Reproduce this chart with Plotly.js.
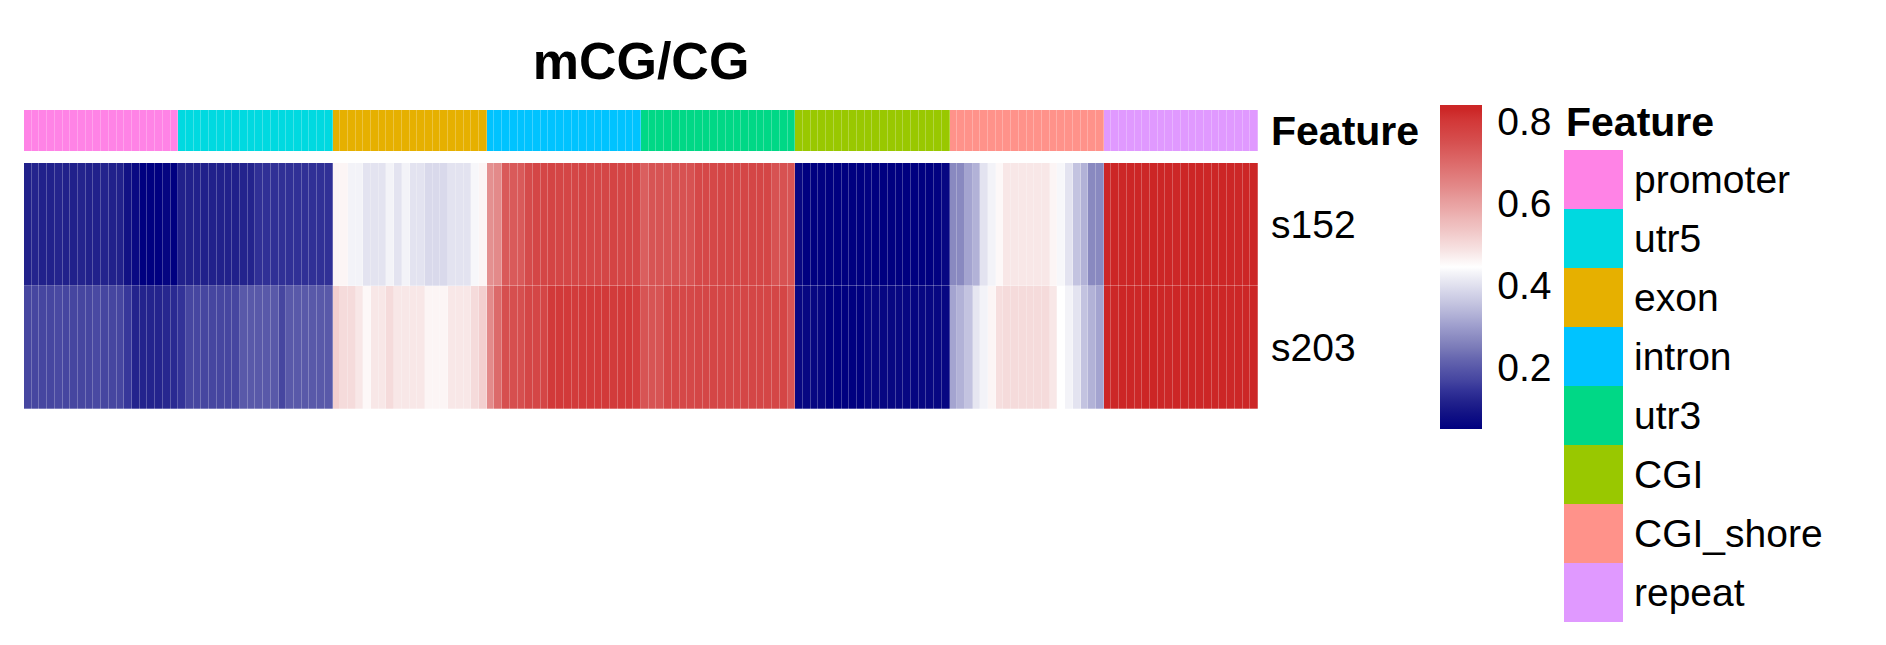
<!DOCTYPE html>
<html>
<head>
<meta charset="utf-8">
<script src="https://cdn.plot.ly/plotly-3.0.1.min.js"></script>
<style>html,body{margin:0;padding:0;background:#fff;}#chart{width:1886px;height:645px;}</style>
</head>
<body>
<div id="chart"></div>
<script>
// ---------------- data ----------------
const chartTitle = "mCG/CG";
const samples = ["s152", "s203"];
const features = ["promoter", "utr5", "exon", "intron", "utr3", "CGI", "CGI_shore", "repeat"];
const featureColors = ["#FF83E6", "#00D9E0", "#E6B000", "#00C3FF", "#00D886", "#99C800", "#FF928A", "#E099FF"];
const binsPerFeature = 20;
const colorbarTicks = [0.2, 0.4, 0.6, 0.8];
const valueMin = 0.05, valueMax = 0.84;

// mCG/CG per bin, 20 bins per feature (promoter, utr5, exon, intron, utr3, CGI, CGI_shore, repeat)
const s152 = [
  0.115,0.12,0.115,0.115,0.12,0.115,0.115,0.12,0.115,0.115,0.12,0.115,0.115,0.085,0.07,0.05,0.05,0.05,0.06,0.05,
  0.115,0.115,0.115,0.115,0.115,0.115,0.115,0.115,0.12,0.12,0.14,0.14,0.14,0.14,0.14,0.14,0.14,0.14,0.14,0.14,
  0.46,0.46,0.43,0.43,0.405,0.405,0.405,0.43,0.405,0.43,0.405,0.405,0.39,0.39,0.39,0.405,0.405,0.405,0.435,0.46,
  0.63,0.64,0.73,0.73,0.73,0.76,0.77,0.77,0.775,0.77,0.77,0.77,0.775,0.77,0.77,0.77,0.775,0.77,0.77,0.77,
  0.72,0.74,0.74,0.74,0.745,0.745,0.745,0.765,0.765,0.765,0.77,0.77,0.77,0.77,0.77,0.77,0.77,0.745,0.745,0.74,
  0.065,0.05,0.05,0.055,0.05,0.05,0.05,0.05,0.05,0.055,0.05,0.05,0.05,0.05,0.05,0.05,0.05,0.05,0.055,0.065,
  0.27,0.27,0.31,0.33,0.405,0.43,0.455,0.48,0.48,0.48,0.48,0.48,0.48,0.46,0.435,0.405,0.355,0.33,0.27,0.27,
  0.835,0.835,0.83,0.835,0.835,0.83,0.835,0.835,0.835,0.83,0.835,0.835,0.835,0.83,0.835,0.835,0.835,0.83,0.835,0.835
];
const s203 = [
  0.17,0.17,0.17,0.17,0.175,0.17,0.17,0.17,0.17,0.175,0.17,0.17,0.17,0.15,0.12,0.12,0.12,0.12,0.125,0.13,
  0.145,0.17,0.17,0.17,0.17,0.17,0.17,0.17,0.2,0.2,0.2,0.2,0.2,0.17,0.2,0.2,0.2,0.2,0.2,0.2,
  0.52,0.50,0.50,0.48,0.455,0.48,0.48,0.50,0.48,0.48,0.48,0.48,0.46,0.46,0.46,0.48,0.48,0.48,0.50,0.52,
  0.64,0.70,0.75,0.75,0.75,0.77,0.77,0.77,0.80,0.80,0.80,0.795,0.80,0.80,0.80,0.80,0.795,0.80,0.80,0.79,
  0.74,0.74,0.74,0.765,0.765,0.765,0.765,0.77,0.77,0.77,0.77,0.77,0.77,0.77,0.77,0.77,0.77,0.77,0.77,0.74,
  0.065,0.065,0.065,0.065,0.05,0.05,0.05,0.05,0.05,0.065,0.065,0.065,0.065,0.065,0.065,0.06,0.065,0.065,0.065,0.065,
  0.31,0.33,0.355,0.41,0.43,0.46,0.495,0.50,0.50,0.50,0.50,0.50,0.50,0.48,0.445,0.43,0.405,0.355,0.33,0.31,
  0.835,0.83,0.835,0.835,0.83,0.835,0.835,0.835,0.83,0.835,0.835,0.835,0.83,0.835,0.835,0.835,0.83,0.835,0.835,0.835
];

// ---------------- build ----------------
const W = 1886, H = 645;
const px = v => v / W;
const py = v => 1 - v / H;
const FONT = "Liberation Sans, Arial, Helvetica, sans-serif";

const nCols = s152.length;
const cols = s152.map((_, i) => i);
const featureIndex = cols.map(i => Math.floor(i / binsPerFeature));

const valueScale = [
  [0.000, "#000080"], [0.050, "#131385"], [0.085, "#22228C"], [0.120, "#333398"],
  [0.150, "#4545A0"], [0.185, "#5656A8"], [0.220, "#6868B0"], [0.250, "#7A7AB8"],
  [0.284, "#8C8CC2"], [0.318, "#9E9ECD"], [0.350, "#B0B0D6"], [0.384, "#C2C2DF"],
  [0.418, "#D3D3E8"], [0.451, "#E4E4F0"], [0.484, "#F5F5F9"], [0.500, "#FFFFFF"],
  [0.517, "#FCF6F6"], [0.550, "#F7E4E4"], [0.584, "#F4D4D4"], [0.617, "#F0C4C4"],
  [0.651, "#EDB6B6"], [0.684, "#EAA6A6"], [0.717, "#E69898"], [0.750, "#E38888"],
  [0.784, "#E07A7A"], [0.817, "#DD6C6C"], [0.851, "#DA5E5E"], [0.884, "#D65050"],
  [0.917, "#D44444"], [0.951, "#D23838"], [0.985, "#CC2727"], [1.000, "#CC2626"]
];
const featScale = featureColors.map((c, i) => [i / (featureColors.length - 1), c]);

const heat = {
  type: "heatmap",
  x: cols,
  y: samples,
  z: [s152, s203],
  zmin: valueMin, zmax: valueMax,
  colorscale: valueScale,
  xgap: 0.25, ygap: 0.3,
  xaxis: "x", yaxis: "y",
  hoverinfo: "skip",
  colorbar: {
    x: px(1440), xanchor: "left", xref: "paper", xpad: 0,
    y: py(105), yanchor: "top", yref: "paper", ypad: 0,
    len: 324, lenmode: "pixels",
    thickness: 42, thicknessmode: "pixels",
    outlinewidth: 0,
    tickvals: colorbarTicks,
    ticktext: colorbarTicks.map(v => v.toFixed(1)),
    ticks: "outside", ticklen: 8, tickcolor: "rgba(0,0,0,0)",
    tickfont: {family: FONT, size: 39, color: "#000"}
  }
};

const annot = {
  type: "heatmap",
  x: cols,
  y: ["Feature"],
  z: [featureIndex],
  zmin: 0, zmax: features.length - 1,
  colorscale: featScale,
  showscale: false,
  xgap: 0.25,
  xaxis: "x", yaxis: "y2",
  hoverinfo: "skip"
};

const legendHeat = {
  type: "heatmap",
  x: [0],
  y: features,
  z: features.map((_, i) => [i]),
  zmin: 0, zmax: features.length - 1,
  colorscale: featScale,
  showscale: false,
  xaxis: "x3", yaxis: "y3",
  hoverinfo: "skip"
};

const layout = {
  width: W, height: H,
  margin: {l: 0, r: 0, t: 0, b: 0, pad: 0},
  paper_bgcolor: "#fff", plot_bgcolor: "#fff",
  showlegend: false,
  font: {family: FONT, color: "#000"},
  title: {
    text: "<b>" + chartTitle + "</b>",
    font: {family: FONT, size: 52, color: "#000"},
    x: px(641), xanchor: "center", xref: "paper",
    y: py(61), yanchor: "middle", yref: "paper"
  },
  xaxis: {
    domain: [px(24), px(1258)], range: [-0.5, nCols - 0.5],
    visible: false, fixedrange: true, anchor: "y"
  },
  yaxis: {
    domain: [py(409), py(163)], type: "category", autorange: "reversed",
    anchor: "x", side: "right", ticks: "", showgrid: false, zeroline: false, showline: false,
    ticklabelstandoff: 12,
    tickfont: {family: FONT, size: 39, color: "#000"}, fixedrange: true
  },
  yaxis2: {
    domain: [py(151), py(110)], type: "category",
    anchor: "x", side: "right", ticks: "", showgrid: false, zeroline: false, showline: false,
    ticklabelstandoff: 12,
    tickfont: {family: FONT, size: 41, color: "#000", weight: "bold"}, fixedrange: true
  },
  xaxis3: {
    domain: [px(1564), px(1623)], range: [-0.5, 0.5],
    visible: false, fixedrange: true, anchor: "y3"
  },
  yaxis3: {
    domain: [py(622), py(150)], type: "category", autorange: "reversed",
    anchor: "x3", side: "right", ticks: "", showgrid: false, zeroline: false, showline: false,
    ticklabelstandoff: 10,
    tickfont: {family: FONT, size: 39, color: "#000"}, fixedrange: true
  },
  annotations: [{
    text: "<b>Feature</b>",
    xref: "paper", yref: "paper",
    x: px(1564), y: py(122), xanchor: "left", yanchor: "middle",
    showarrow: false,
    font: {family: FONT, size: 41, color: "#000"}
  }]
};

Plotly.newPlot("chart", [heat, annot, legendHeat], layout, {staticPlot: true, displayModeBar: false});
</script>
</body>
</html>
